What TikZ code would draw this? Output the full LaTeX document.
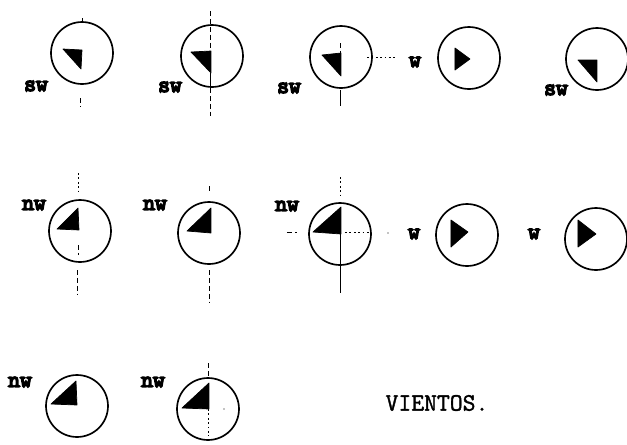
\documentclass[tikz,border=0pt]{standalone}
\usepackage{fontspec}
\newfontfamily\windfont[FakeBold=7]{Latin Modern Mono}
\newfontfamily\titlefont[FakeBold=1.5]{Latin Modern Mono}
\usetikzlibrary{positioning}

\begin{document}
\begin{tikzpicture}[x=0.02cm,y=-0.02cm,
    dial/.style={draw,circle,line width=0.95pt,minimum size=1.24cm,inner sep=0pt},
    vane/.style={fill=black,draw=black,line width=0.4pt,line join=round},
    wind/.style={font=\windfont\fontsize{13}{14}\selectfont,inner sep=0pt},
    solidline/.style={line width=0.55pt},
    dashline/.style={line width=0.55pt,dash pattern=on 3pt off 1.5pt},
    dotline/.style={line width=0.4pt,dash pattern=on 1pt off 1.5pt}]
\useasboundingbox (0,0) rectangle (627,444);
% Dials
\foreach \name/\x/\y in {a1/82/53,a2/212/56,a3/341/57,a4/469/58,a5/597/59,
    b1/80/231,b2/209/233,b3/340/234,b4/467/235,b5/596/239,
    c1/77/406,c2/208/409} {
    \node[dial] (\name) at (\x,\y) {};
}
% Vanes, sw
\fill[vane] (63,49) -- (82,50) -- (81,69) -- cycle;
\fill[vane] (191,52) -- (211,51) -- (211,73) -- cycle;
\fill[vane] (322,55) -- (341,53) -- (341,76) -- cycle;
\fill[vane] (578,60) -- (597,60) -- (597,82) -- cycle;
% Vanes, w
\fill[vane] (455,48) -- (470,59) -- (455,70) -- cycle;
\fill[vane] (451,220) -- (468,232) -- (451,247) -- cycle;
\fill[vane] (578,220) -- (596,234) -- (578,247) -- cycle;
% Vanes, nw
\fill[vane] (57,229) -- (78,208) -- (79,230) -- cycle;
\fill[vane] (187,231) -- (211,208) -- (211,233) -- cycle;
\fill[vane] (313,232) -- (341,207) -- (341,234) -- cycle;
\fill[vane] (51,404) -- (76,381) -- (77,405) -- cycle;
\fill[vane] (182,408) -- (209,383) -- (209,409) -- cycle;
% Free ends of the wind lines
\foreach \name/\x/\y in {a1t/82/18,a1b/80/98,a1e/80/107,
    a2t/210/11,a2m/210/73,a2l/210/88,a2b/210/116,
    a3t/340/43,a3m/340/53,a3l/340/90,a3b/340/106,a3r/367/57,a3e/396/57,
    b1t/78/173,b1m/78/194,b1i/78/245,b1j/78/255,b1b/77/270,b1e/77/295,
    b2t/209/186,b2m/209/192,b2b/209/270,b2e/209/302,
    b3t/340/177,b3m/340/195,b3c/340/234,b3b/340/293,b3l/287/232,b3k/297/232,b3r/345/232,b3e/370/232,
    c2t/208/363,c2m/208/378,c2i/208/409,c2b/208/436} {
    \coordinate (\name) at (\x,\y);
}
% Wind lines
\draw[solidline] (a1t) -- (a1.north);
\draw[dashline] (a1b) -- (a1e);
\draw[dashline] (a2t) -- (a2m);
\draw[solidline] (a2m) -- (a2l);
\draw[dashline] (a2l) -- (a2b);
\draw[dashline] (a3t) -- (a3m);
\draw[solidline] (a3l) -- (a3b);
\draw[dotline] (a3r) -- (a3e);
\draw[dotline] (b1t) -- (b1m);
\draw[dashline] (b1i) -- (b1j);
\draw[dashline] (b1b) -- (b1e);
\draw[dashline] (b2t) -- (b2m);
\draw[dashline] (b2b) -- (b2e);
\draw[dotline] (b3t) -- (b3m);
\draw[solidline] (b3c) -- (b3b);
\draw[dashline] (b3l) -- (b3k);
\draw[dotline] (b3r) -- (b3e);
\draw[dashline] (c2t) -- (c2m);
\draw[dotline] (c2i) -- (c2b);
% Loose dots
\fill (388,233) circle (0.6);
\fill (224,409) circle (0.6);
% Labels
\foreach \name/\x/\y/\label in {la1/36/86/sw,la2/170/87/sw,la3/289/88/sw,la4/415/62/w,la5/556/90/sw,
    lb1/34/205/nw,lb2/155/205/nw,lb3/287/206/nw,lb4/414/234/w,lb5/534/234/w,
    lc1/20/382/nw,lc2/153/382/nw} {
    \node[wind] (\name) at (\x,\y) {\label};
}
\node[font=\titlefont\fontsize{14.2}{15}\selectfont,inner sep=0pt] (title) at (437,403) {VIENTOS.};
\end{tikzpicture}
\end{document}
